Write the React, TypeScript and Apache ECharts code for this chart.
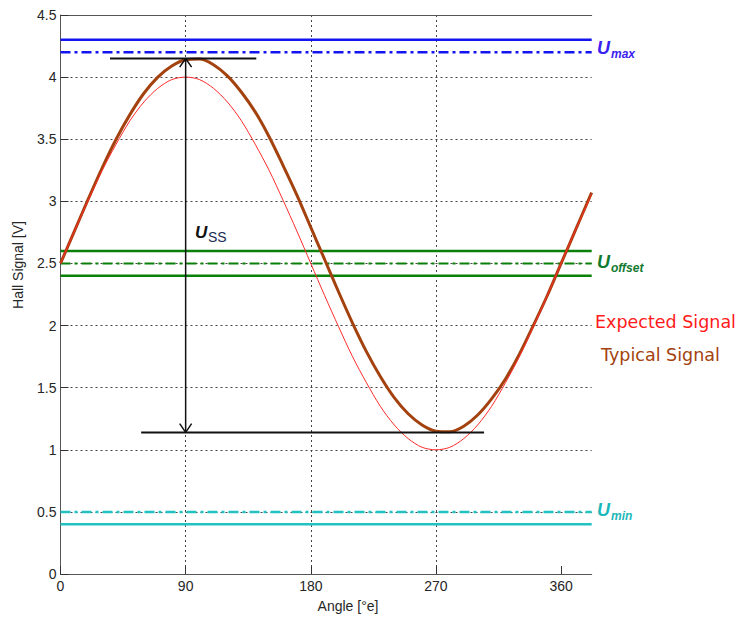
import React, { useEffect, useRef } from "react";
import * as echarts from "echarts";

// ---- data ----
const angles = [0, 10, 20, 30, 40, 50, 60, 70, 80, 90, 100, 110, 120, 130, 140, 150, 160, 170, 180, 190, 200, 210, 220, 230, 240, 250, 260, 270, 280, 290, 300, 310, 320, 330, 340, 350, 360, 370, 380, 382];
const expectedSignal = [2.5, 2.76, 3.01, 3.25, 3.46, 3.65, 3.8, 3.91, 3.98, 4.0, 3.98, 3.91, 3.8, 3.65, 3.46, 3.25, 3.01, 2.76, 2.5, 2.24, 1.99, 1.75, 1.54, 1.35, 1.2, 1.09, 1.02, 1.0, 1.02, 1.09, 1.2, 1.35, 1.54, 1.75, 1.99, 2.24, 2.5, 2.76, 3.01, 3.06];
const typicalSignal = [2.5, 2.76, 3.02, 3.27, 3.5, 3.7, 3.87, 4.0, 4.09, 4.14, 4.145, 4.1, 4.01, 3.88, 3.72, 3.52, 3.29, 3.05, 2.79, 2.53, 2.27, 2.02, 1.79, 1.59, 1.42, 1.29, 1.2, 1.15, 1.145, 1.19, 1.28, 1.41, 1.57, 1.77, 2.0, 2.24, 2.5, 2.76, 3.02, 3.07];
const xTicks = [0, 90, 180, 270, 360];
const xMin = 0;
const xMax = 382;
const yMin = 0;
const yMax = 4.5;
const yStep = 0.5;

const uMaxLimit = 4.3;
const uMaxTypical = 4.2;
const uOffsetHigh = 2.6;
const uOffsetNominal = 2.5;
const uOffsetLow = 2.4;
const uMinTypical = 0.5;
const uMinLimit = 0.4;

const ussAngle = 90;
const ussPeak = 4.15;
const ussValley = 1.14;
const peakBarAngles = [35.6, 140.8];
const valleyBarAngles = [58, 304.6];
const arrowHalfWidth = 4.3;
const arrowHeight = 0.07;

const FONT = "'Liberation Sans', Arial, sans-serif";

function hline(v: number, color: string, dash: any, width: number) {
  return {
    type: "line",
    data: [[xMin, v], [xMax, v]],
    symbol: "none",
    silent: true,
    lineStyle: { color, type: dash, width },
    z: 3,
  };
}

function seg(points: number[][], color: string, width: number) {
  return {
    type: "line",
    data: points,
    symbol: "none",
    silent: true,
    lineStyle: { color, width, type: "solid" },
    z: 6,
  };
}

export default function App() {
  const ref = useRef<HTMLDivElement>(null);
  useEffect(() => {
    if (!ref.current) return;
    const chart = echarts.init(ref.current, undefined, { renderer: "svg" });
    const dashDot = [10, 4, 3, 4];
    const option: any = {
      animation: false,
      grid: { left: 60.5, right: 150.3, top: 15, bottom: 43, containLabel: false },
      xAxis: [
        {
          type: "value",
          min: xMin,
          max: xMax,
          interval: 90,
          axisLine: { show: true, lineStyle: { color: "#555", width: 1 } },
          axisTick: { show: true, inside: true, length: 8, customValues: xTicks, lineStyle: { color: "#333" } },
          axisLabel: { customValues: xTicks, color: "#262626", fontFamily: FONT, fontSize: 14, margin: 5 },
          splitLine: { show: true, showMinLine: false, showMaxLine: false, lineStyle: { color: "#444", type: [2, 3], width: 1 } },
        },
        {
          type: "value",
          position: "top",
          min: xMin,
          max: xMax,
          axisLine: { show: true, lineStyle: { color: "#555", width: 1 } },
          axisTick: { show: false },
          axisLabel: { show: false },
          splitLine: { show: false },
        },
      ],
      yAxis: {
        type: "value",
        min: yMin,
        max: yMax,
        interval: yStep,
        axisLine: { show: true, lineStyle: { color: "#555", width: 1 } },
        axisTick: { show: true, inside: true, length: 8, lineStyle: { color: "#333" } },
        axisLabel: { color: "#262626", fontFamily: FONT, fontSize: 14, margin: 4 },
        splitLine: { show: true, showMinLine: false, showMaxLine: false, lineStyle: { color: "#444", type: [2, 3], width: 1 } },
      },
      series: [
        hline(uMaxLimit, "#1414f0", "solid", 2.5),
        hline(uMaxTypical, "#1414f0", dashDot, 2.5),
        hline(uOffsetHigh, "#0a800a", "solid", 2.5),
        hline(uOffsetNominal, "#0a800a", dashDot, 2),
        hline(uOffsetLow, "#0a800a", "solid", 2.5),
        hline(uMinTypical, "#22c2c2", dashDot, 2.5),
        hline(uMinLimit, "#22c2c2", "solid", 2.5),
        {
          type: "line",
          name: "Typical Signal",
          data: angles.map((a, i) => [a, typicalSignal[i]]),
          symbol: "none",
          smooth: 0.3,
          lineStyle: { color: "#a3420e", width: 3 },
          z: 4,
        },
        {
          type: "line",
          name: "Expected Signal",
          data: angles.map((a, i) => [a, expectedSignal[i]]),
          symbol: "none",
          smooth: 0.3,
          lineStyle: { color: "#ff2a2a", width: 1 },
          z: 5,
        },
        seg([[peakBarAngles[0], ussPeak], [peakBarAngles[1], ussPeak]], "#111", 2),
        seg([[valleyBarAngles[0], ussValley], [valleyBarAngles[1], ussValley]], "#111", 2),
        seg([[ussAngle, ussValley], [ussAngle, ussPeak]], "#111", 1.5),
        seg([[ussAngle - arrowHalfWidth, ussPeak - arrowHeight], [ussAngle, ussPeak], [ussAngle + arrowHalfWidth, ussPeak - arrowHeight]], "#111", 1.5),
        seg([[ussAngle - arrowHalfWidth, ussValley + arrowHeight], [ussAngle, ussValley], [ussAngle + arrowHalfWidth, ussValley + arrowHeight]], "#111", 1.5),
      ],
      graphic: [
        { type: "text", x: 18, y: 265, rotation: Math.PI / 2, style: { text: "Hall Signal [V]", font: `14px ${FONT}`, fill: "#262626", align: "center", verticalAlign: "middle", textAlign: "center", textVerticalAlign: "middle" } },
        { type: "text", x: 348, y: 606, style: { text: "Angle [°e]", font: `14px ${FONT}`, fill: "#262626", align: "center", verticalAlign: "middle", textAlign: "center", textVerticalAlign: "middle" } },
        // U_max
        { type: "text", x: 597, y: 48, style: { text: "U", font: `italic bold 18px ${FONT}`, fill: "#3a1ff0", verticalAlign: "middle", textVerticalAlign: "middle" } },
        { type: "text", x: 611, y: 54, style: { text: "max", font: `italic bold 12px ${FONT}`, fill: "#3a1ff0", verticalAlign: "middle", textVerticalAlign: "middle" } },
        // U_offset
        { type: "text", x: 597, y: 262, style: { text: "U", font: `italic bold 18px ${FONT}`, fill: "#127a2e", verticalAlign: "middle", textVerticalAlign: "middle" } },
        { type: "text", x: 611, y: 268, style: { text: "offset", font: `italic bold 12px ${FONT}`, fill: "#127a2e", verticalAlign: "middle", textVerticalAlign: "middle" } },
        // U_min
        { type: "text", x: 597, y: 510, style: { text: "U", font: `italic bold 18px ${FONT}`, fill: "#1cb8b8", verticalAlign: "middle", textVerticalAlign: "middle" } },
        { type: "text", x: 611, y: 516, style: { text: "min", font: `italic bold 12px ${FONT}`, fill: "#1cb8b8", verticalAlign: "middle", textVerticalAlign: "middle" } },
        // U_SS
        { type: "text", x: 195, y: 232, style: { text: "U", font: `italic bold 17px ${FONT}`, fill: "#111", verticalAlign: "middle", textVerticalAlign: "middle" } },
        { type: "text", x: 208, y: 237, style: { text: "SS", font: `14px ${FONT}`, fill: "#1a2a50", verticalAlign: "middle", textVerticalAlign: "middle" } },
        // legend-like labels
        { type: "text", x: 595, y: 322, style: { text: "Expected Signal", font: `17.5px 'DejaVu Sans', Verdana, sans-serif`, fill: "#ff1a1a", verticalAlign: "middle", textVerticalAlign: "middle" } },
        { type: "text", x: 601, y: 355, style: { text: "Typical Signal", font: `17.5px 'DejaVu Sans', Verdana, sans-serif`, fill: "#a3420e", verticalAlign: "middle", textVerticalAlign: "middle" } },
      ],
    };
    chart.setOption(option);
    return () => chart.dispose();
  }, []);
  return <div ref={ref} style={{ position: "fixed", left: 0, top: 0, width: 742, height: 617, background: "#fff" }} />;
}
